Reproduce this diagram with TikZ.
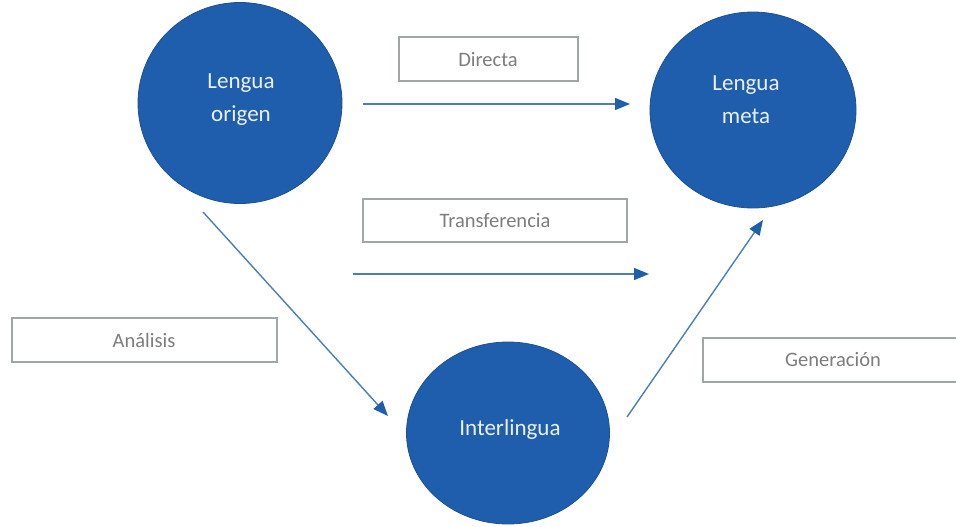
\documentclass[tikz,border=0pt]{standalone}
\usepackage{fontspec}
\setmainfont{Carlito}
\usetikzlibrary{shapes.geometric,arrows.meta}
\definecolor{cfill}{RGB}{31,94,173}
\definecolor{cedge}{RGB}{28,80,150}
\definecolor{aline}{RGB}{74,126,187}
\definecolor{ahead}{RGB}{31,94,173}
\definecolor{bedge}{RGB}{160,165,165}
\definecolor{btext}{RGB}{125,125,125}
\definecolor{ctext}{RGB}{235,240,248}
\tikzset{
  lang/.style={ellipse, fill=cfill, draw=cedge, line width=0.8pt, inner sep=0pt},
  langtext/.style={text=ctext, font=\fontsize{23}{33}\selectfont, align=center, inner sep=0pt},
  labelbox/.style={draw=bedge, line width=2pt, fill=white, inner sep=0pt},
  labeltext/.style={text=btext, font=\fontsize{20.5}{24}\selectfont, inner sep=0pt},
  flow/.style={draw=aline, line width=1.4pt, -{Triangle[length=15pt,width=12pt,color=ahead]}}
}
\begin{document}
\begin{tikzpicture}[x=1pt,y=-1pt]
\useasboundingbox (0,0) rectangle (956,527);
\clip (0,0) rectangle (956,527);
\fill[white] (0,0) rectangle (956,527);
% circles
\node[lang, minimum width=204pt, minimum height=201pt] (lo) at (240,103) {};
\node[lang, minimum width=206pt, minimum height=196pt] (lm) at (753,110) {};
\node[lang, minimum width=203pt, minimum height=182pt] (il) at (508,433) {};
\node[langtext] (lot) at (241,100) {Lengua\\origen};
\node[langtext] (lmt) at (746,100) {Lengua\\meta};
\node[langtext] (ilt) at (510,429) {Interlingua};
% label boxes
\node[labelbox, minimum width=179pt, minimum height=44pt] (bd) at (488.5,59) {};
\node[labelbox, minimum width=264pt, minimum height=43pt] (bt) at (495,220.5) {};
\node[labelbox, minimum width=265pt, minimum height=44pt] (ba) at (144.5,340) {};
\node[labelbox, minimum width=260pt, minimum height=44pt] (bg) at (833,360) {};
\node[labeltext] (bdt) at (488,60) {Directa};
\node[labeltext] (btt) at (495,221) {Transferencia};
\node[labeltext] (bat) at (144,340) {Análisis};
\node[labeltext] (bgt) at (833,360) {Generación};
% arrow end points
\coordinate (d1) at (363,104);
\coordinate (d2) at (630,104);
\coordinate (t1) at (353,274);
\coordinate (t2) at (649,274);
\coordinate (a1) at (203,212);
\coordinate (a2) at (388,416);
\coordinate (g1) at (627,417);
\coordinate (g2) at (763,220);
\draw[flow] (d1) -- (d2);
\draw[flow] (t1) -- (t2);
\draw[flow] (a1) -- (a2);
\draw[flow] (g1) -- (g2);
\end{tikzpicture}
\end{document}
